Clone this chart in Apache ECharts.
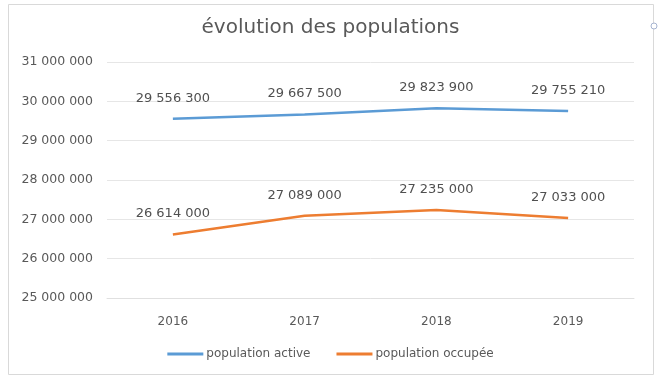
<!DOCTYPE html>
<html>
<head>
<meta charset="utf-8">
<script src="https://cdn.jsdelivr.net/npm/echarts@6/dist/echarts.min.js"></script>
<style>
html,body{margin:0;padding:0;background:#fff;}
#c{width:661px;height:382px;}
</style>
</head>
<body>
<div id="c"></div>
<script>
const categories = ['2016', '2017', '2018', '2019'];
const populationActive = [29556300, 29667500, 29823900, 29755210];
const populationOccupee = [26614000, 27089000, 27235000, 27033000];
const seriesNames = ['population active', 'population occupée'];
const titleText = 'évolution des populations';

function fmt(v) {
  return String(Math.round(v)).replace(/\B(?=(\d{3})+(?!\d))/g, ' ');
}

const chart = echarts.init(document.getElementById('c'));
const font = '"DejaVu Sans", sans-serif';
chart.setOption({
  animation: false,
  backgroundColor: '#fff',
  textStyle: { fontFamily: font },
  title: {
    text: titleText,
    left: 'center',
    top: 13,
    textStyle: { fontFamily: font, fontSize: 20, fontWeight: 'normal', color: '#595959' }
  },
  graphic: [
    { type: 'rect', shape: { x: 8.5, y: 4.5, width: 645, height: 370 },
      style: { fill: 'none', stroke: '#d9d9d9', lineWidth: 1 }, silent: true },
    { type: 'circle', shape: { cx: 654, cy: 26, r: 3 },
      style: { fill: '#fff', stroke: '#a6b4d0', lineWidth: 1 }, silent: true }
  ],
  grid: { left: 107, right: 27, top: 62, bottom: 84 },
  legend: {
    bottom: 17,
    left: 'center',
    itemWidth: 36,
    itemHeight: 3,
    itemGap: 26,
    icon: 'rect',
    textStyle: { fontFamily: font, fontSize: 12, color: '#595959', padding: [0, 0, 0, -2] },
    data: seriesNames
  },
  xAxis: {
    type: 'category',
    data: categories,
    boundaryGap: true,
    axisLine: { show: true, lineStyle: { color: '#e0e0e0' } },
    axisTick: { show: false },
    axisLabel: { color: '#595959', fontSize: 12, margin: 18 }
  },
  yAxis: {
    type: 'value',
    min: 25000000,
    max: 31000000,
    interval: 1000000,
    axisLine: { show: false },
    axisTick: { show: false },
    splitLine: { lineStyle: { color: '#e6e6e6' } },
    axisLabel: { color: '#595959', fontSize: 12.5, margin: 14, formatter: fmt }
  },
  series: [
    {
      name: seriesNames[0], type: 'line', data: populationActive,
      symbol: 'circle', symbolSize: 0, lineStyle: { width: 2.5, color: '#5B9BD5' }, itemStyle: { color: '#5B9BD5' },
      label: { show: true, position: 'top', distance: 14, color: '#505050', fontSize: 13, formatter: p => fmt(p.value) }
    },
    {
      name: seriesNames[1], type: 'line', data: populationOccupee,
      symbol: 'circle', symbolSize: 0, lineStyle: { width: 2.5, color: '#ED7D31' }, itemStyle: { color: '#ED7D31' },
      label: { show: true, position: 'top', distance: 14, color: '#505050', fontSize: 13, formatter: p => fmt(p.value) }
    }
  ]
});
</script>
</body>
</html>
